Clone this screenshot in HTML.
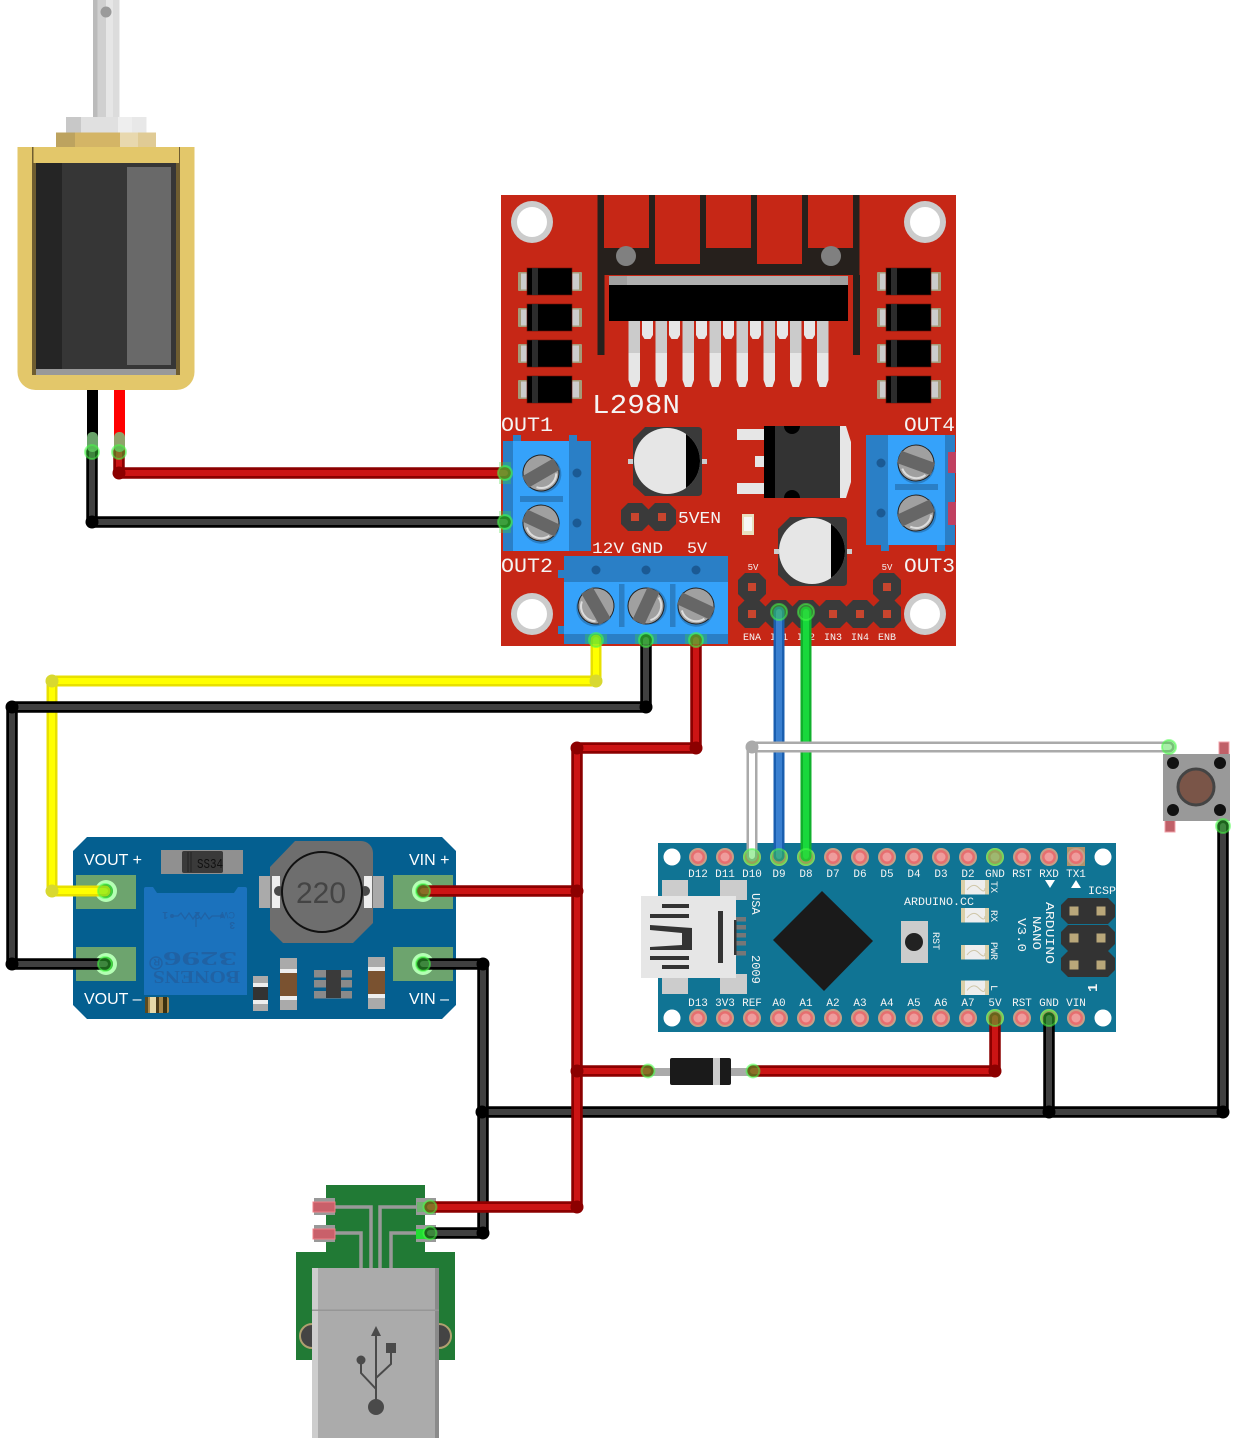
<!DOCTYPE html>
<html><head><meta charset="utf-8"><style>
html,body{margin:0;padding:0;background:#fff}
svg{display:block}
.m{font-family:"Liberation Mono","DejaVu Sans Mono",monospace;fill:#f4f4f4}
.s{font-family:"Liberation Sans",sans-serif;fill:#fff}
.a{text-anchor:middle}
path.w{fill:none;stroke-linecap:round;stroke-linejoin:round}
</style></head><body>
<svg width="1236" height="1450" viewBox="0 0 1236 1450" xmlns="http://www.w3.org/2000/svg">
<defs>
<g id="dl"><rect x="518" y="0" width="64" height="19" rx="1" fill="#a59a78"/><rect x="521" y="1.500" width="58" height="16" fill="#ccc"/><rect x="527" y="-4" width="45" height="27" fill="#000" stroke="#6a1008" stroke-width=".6"/><rect x="532" y="-4" width="6" height="27" fill="#2c2c2c"/></g>
<g id="screw"><circle r="18.500" fill="#2a7fc6" cx="1" cy="2"/><circle r="18" fill="#a0a0a0" stroke="#222" stroke-width="1"/><path d="M-11 10A15 15 0 0 0 13 8" fill="none" stroke="#ddd" stroke-width="2"/><rect x="-18" y="-6.500" width="36" height="13" fill="#666"/></g>
<g id="hdr"><path d="M-7-14H7L14-7V7L7 14H-7L-14 7V-7Z" fill="#3a3a3a"/><rect x="-4" y="-4" width="8" height="8" fill="#c8452e"/></g>
<g id="pin"><circle r="9" fill="#c7a088"/><circle r="7" fill="#e66f70"/><circle r="4.500" fill="#ef9c9c"/></g>
<g id="led"><rect width="28" height="14.500" fill="#eee"/><rect width="4" height="14.500" fill="#d9cfa8"/><rect x="24" width="4" height="14.500" fill="#d9cfa8"/><path d="M6 10Q12 2 18 8T24 8" fill="none" stroke="#cfc6a8"/></g>
<g id="pin2"><rect x="-4.500" y="-4.500" width="9" height="9" fill="#b9a77a"/></g>
<g id="hdr2"><path d="M-20-13H20L27-6V6L20 13H-20L-27 6V-6Z" fill="#333"/></g>
<g id="hole"><circle r="21" fill="#ccc"/><circle r="15" fill="#fff"/></g>
<g id="lp"><path d="M0 0H11.500V59L9 66H2.500L0 59Z" fill="#e6e6e6"/><rect width="11.500" height="32" fill="#cbcbcb"/></g>
<g id="sp"><path d="M0 0H11V14L8.500 18H2.500L0 14Z" fill="#e6e6e6"/></g>
</defs>

<!-- Solenoid -->
<rect x="93" y="0" width="4.500" height="117" fill="#bbb"/><rect x="97.500" y="0" width="8.500" height="117" fill="#d0d0d0"/><rect x="106" y="0" width="7" height="117" fill="#e6e6e6"/><rect x="113" y="0" width="6.500" height="117" fill="#dcdcdc"/>
<circle cx="106" cy="12" r="5.500" fill="#9a9a9a"/>
<rect x="66" y="117" width="15" height="15.500" fill="#c8c8c8"/><rect x="81" y="117" width="37" height="15.500" fill="#e0e0e0"/><rect x="118" y="117" width="14" height="15.500" fill="#eee"/><rect x="132" y="117" width="14.500" height="15.500" fill="#e8e8e8"/>
<rect x="56" y="132.500" width="19" height="15" fill="#bda35f"/><rect x="75" y="132.500" width="45" height="15" fill="#d4b566"/><rect x="120" y="132.500" width="18" height="15" fill="#e8d8ae"/><rect x="138" y="132.500" width="18" height="15" fill="#e0cb95"/>
<path d="M17.500 147H194.500V372A18 18 0 0 1 176.500 390H35.500A18 18 0 0 1 17.500 372Z" fill="#e3c76a"/>
<rect x="32" y="147" width="148" height="228" fill="#6f5d30"/>
<rect x="33.500" y="147" width="145.500" height="16" fill="#e3c76a"/>
<rect x="36" y="163" width="140" height="212" fill="#363636"/>
<rect x="36" y="163" width="26" height="206" fill="#252525"/>
<rect x="127" y="167" width="44" height="198" fill="#696969"/>
<rect x="36" y="369" width="140" height="6" fill="#999"/>
<rect x="87" y="390" width="11" height="65" fill="#000"/>
<rect x="114" y="390" width="11" height="65" fill="#f00"/>

<!-- L298N -->
<rect x="501" y="195" width="455" height="451" fill="#c62716"/>
<use href="#hole" x="532" y="222"/><use href="#hole" x="925" y="222"/><use href="#hole" x="532" y="614"/><use href="#hole" x="925" y="614"/>
<rect x="597.500" y="195" width="262" height="80" fill="#26201c"/>
<rect x="597.500" y="275" width="7" height="80" fill="#26201c"/><rect x="853" y="275" width="7" height="80" fill="#26201c"/>
<g fill="#c62716"><rect x="604" y="195" width="45" height="53"/><rect x="655" y="195" width="45" height="69"/><rect x="706" y="195" width="45" height="53"/><rect x="757" y="195" width="45" height="69"/><rect x="808" y="195" width="45" height="53"/></g>
<circle cx="626" cy="256" r="10" fill="#808080"/><circle cx="831" cy="256" r="10" fill="#808080"/>
<rect x="609" y="276" width="239" height="9" fill="#b0b0b0"/><rect x="609" y="276" width="18" height="9" fill="#a0a0a0"/><rect x="830" y="276" width="18" height="9" fill="#a0a0a0"/>
<rect x="609" y="285" width="239" height="36" fill="#000"/>
<use href="#lp" x="628.500" y="321"/><use href="#lp" x="655.500" y="321"/><use href="#lp" x="682.500" y="321"/><use href="#lp" x="709.500" y="321"/><use href="#lp" x="736.500" y="321"/><use href="#lp" x="763.500" y="321"/><use href="#lp" x="790" y="321"/><use href="#lp" x="817" y="321"/>
<use href="#sp" x="642" y="321"/><use href="#sp" x="669" y="321"/><use href="#sp" x="696" y="321"/><use href="#sp" x="723" y="321"/><use href="#sp" x="750" y="321"/><use href="#sp" x="777" y="321"/><use href="#sp" x="804" y="321"/>
<use href="#dl" y="272"/><use href="#dl" y="308"/><use href="#dl" y="344"/><use href="#dl" y="380"/>
<use href="#dl" x="359" y="272"/><use href="#dl" x="359" y="308"/><use href="#dl" x="359" y="344"/><use href="#dl" x="359" y="380"/>

<text class="m" x="592" y="413" font-size="27" textLength="88" lengthAdjust="spacingAndGlyphs">L298N</text>
<text class="m" x="501" y="431" font-size="20" textLength="52" lengthAdjust="spacingAndGlyphs">OUT1</text>
<text class="m" x="904" y="431" font-size="20" textLength="51" lengthAdjust="spacingAndGlyphs">OUT4</text>
<text class="m" x="501" y="572" font-size="20" textLength="52" lengthAdjust="spacingAndGlyphs">OUT2</text>
<text class="m" x="904" y="572" font-size="20" textLength="51" lengthAdjust="spacingAndGlyphs">OUT3</text>

<!-- left terminal -->
<rect x="513" y="435" width="8" height="6" fill="#2a7fc6"/><rect x="569" y="435" width="8" height="6" fill="#2a7fc6"/>
<rect x="503" y="441" width="88" height="110" fill="#2a7fc6"/><rect x="513" y="441" width="56" height="110" fill="#35a2fa"/>
<rect x="520" y="496" width="43" height="6" fill="#2a7fc6"/>
<circle cx="577" cy="473" r="4.500" fill="#1b5a94"/><circle cx="577" cy="523" r="4.500" fill="#1b5a94"/>
<use href="#screw" transform="translate(541 473) rotate(-30)"/><use href="#screw" transform="translate(541 523) rotate(25)"/>
<!-- right terminal -->
<rect x="881" y="545" width="8" height="6" fill="#2a7fc6"/><rect x="937" y="545" width="8" height="6" fill="#2a7fc6"/>
<rect x="866" y="435" width="89" height="110" fill="#2a7fc6"/><rect x="888" y="435" width="57" height="110" fill="#35a2fa"/>
<rect x="895" y="484" width="43" height="6" fill="#2a7fc6"/>
<circle cx="881" cy="463" r="4.500" fill="#1b5a94"/><circle cx="881" cy="513" r="4.500" fill="#1b5a94"/>
<use href="#screw" transform="translate(916 463) rotate(20)"/><use href="#screw" transform="translate(916 513) rotate(-25)"/>
<rect x="948" y="452" width="8" height="21" fill="#c04060"/><rect x="948" y="502" width="8" height="23" fill="#c04060"/>
<!-- bottom terminal -->
<rect x="558" y="570" width="6" height="8" fill="#2a7fc6"/><rect x="558" y="626" width="6" height="8" fill="#2a7fc6"/>
<rect x="564" y="556" width="164" height="88" fill="#2a7fc6"/><rect x="564" y="582" width="164" height="52" fill="#35a2fa"/>
<circle cx="596" cy="570" r="4.500" fill="#1b5a94"/><circle cx="646" cy="570" r="4.500" fill="#1b5a94"/><circle cx="696" cy="570" r="4.500" fill="#1b5a94"/>
<rect x="619" y="584" width="5.500" height="43" fill="#2a7fc6"/><rect x="670" y="584" width="5.500" height="43" fill="#2a7fc6"/>
<use href="#screw" transform="translate(596 606) rotate(60)"/><use href="#screw" transform="translate(646 606) rotate(-65)"/><use href="#screw" transform="translate(696 606) rotate(25)"/>
<text class="m" x="592" y="553" font-size="16" textLength="32" lengthAdjust="spacingAndGlyphs">12V</text>
<text class="m" x="631" y="553" font-size="16" textLength="32" lengthAdjust="spacingAndGlyphs">GND</text>
<text class="m" x="687" y="553" font-size="16" textLength="20" lengthAdjust="spacingAndGlyphs">5V</text>
<!-- caps -->
<path d="M645 427H698Q702 427 702 431V492Q702 496 698 496H645L633 485V439Z" fill="#3a3a3a"/><rect x="628" y="459" width="5" height="5" fill="#ccc"/><rect x="702" y="459" width="5" height="5" fill="#ccc"/>
<circle cx="667" cy="461" r="33" fill="#e6e6e6"/><path d="M686 434A33 33 0 0 1 686 488Z" fill="#000"/>
<path d="M790 517H843Q847 517 847 521V582Q847 586 843 586H790L778 575V529Z" fill="#3a3a3a"/><rect x="774" y="549" width="5" height="5" fill="#ccc"/><rect x="847" y="549" width="5" height="5" fill="#ccc"/>
<circle cx="812" cy="551" r="33" fill="#e6e6e6"/><path d="M831 524A33 33 0 0 1 831 578Z" fill="#000"/>
<!-- regulator -->
<rect x="737" y="429" width="33" height="11" fill="#e6e6e6"/><rect x="737" y="483" width="33" height="11" fill="#e6e6e6"/><rect x="755" y="456" width="15" height="11" fill="#e6e6e6"/>
<rect x="764" y="426" width="76" height="72" fill="#333"/><rect x="764" y="426" width="11" height="72" fill="#000"/>
<path d="M840 426H846L851 442V482L846 498H840Z" fill="#e6e6e6"/>
<path d="M784 426A8 8 0 0 0 800 426Z" fill="#000"/><path d="M784 498A8 8 0 0 1 800 498Z" fill="#000"/>
<use href="#hdr" x="635" y="517"/><use href="#hdr" x="662" y="517"/>
<text class="m" x="678" y="523" font-size="17" textLength="43" lengthAdjust="spacingAndGlyphs">5VEN</text>
<rect x="742" y="514" width="12" height="21" fill="#e8dfc0"/><rect x="744" y="517" width="8" height="14" fill="#f6f6f6"/>
<use href="#hdr" x="752" y="587"/><use href="#hdr" x="887" y="587"/>
<use href="#hdr" x="752" y="614"/><use href="#hdr" x="779" y="614"/><use href="#hdr" x="806" y="614"/><use href="#hdr" x="833" y="614"/><use href="#hdr" x="860" y="614"/><use href="#hdr" x="887" y="614"/>
<g class="m a" font-size="10"><text class="m a" x="753" y="570" font-size="9">5V</text><text class="m a" x="887" y="570" font-size="9">5V</text>
<text class="m a" x="752" y="640">ENA</text><text class="m a" x="779" y="640">IN1</text><text class="m a" x="806" y="640">IN2</text><text class="m a" x="833" y="640">IN3</text><text class="m a" x="860" y="640">IN4</text><text class="m a" x="887" y="640">ENB</text></g>

<!-- MT3608 -->
<path d="M87 837H442L456 851V1005L442 1019H87L73 1005V851Z" fill="#045f90"/>
<g fill="#6da46e"><rect x="76" y="875" width="60" height="34"/><rect x="76" y="947" width="60" height="34"/><rect x="393" y="875" width="60" height="34"/><rect x="393" y="947" width="60" height="34"/></g>
<text class="s" x="84" y="865" font-size="16">VOUT +</text><text class="s" x="409" y="865" font-size="16">VIN +</text>
<text class="s" x="84" y="1004" font-size="16">VOUT –</text><text class="s" x="409" y="1004" font-size="16">VIN –</text>
<rect x="161" y="850" width="82" height="24" fill="#909090"/><rect x="182" y="851" width="41" height="22" rx="2" fill="#3a3a3a"/>
<path d="M188 852V872M191 852V872" stroke="#222"/>
<text x="197" y="868" font-family="Liberation Mono,monospace" font-size="14" fill="#111" textLength="26" lengthAdjust="spacingAndGlyphs">SS34</text>
<!-- trimmer -->
<path d="M144 889Q144 887 146 887H153L157 893H234L238 887H245Q247 887 247 889V995H144Z" fill="#1b72bd"/>
<g fill="#2062a4" font-family="Liberation Serif,serif" font-weight="bold">
<text transform="translate(237 952) rotate(180)" font-size="20" textLength="74" lengthAdjust="spacingAndGlyphs">3296</text>
<text transform="translate(240 971) rotate(180)" font-size="18" textLength="87" lengthAdjust="spacingAndGlyphs">BONENS</text>
<text transform="translate(160 959) rotate(180)" font-size="9" font-family="Liberation Sans,sans-serif">R</text>
<text transform="translate(235 912) rotate(180)" font-size="9" font-weight="normal" font-family="Liberation Sans,sans-serif">CW</text>
<text transform="translate(200 912) rotate(180)" font-size="10" font-family="Liberation Sans,sans-serif">2</text>
<text transform="translate(235 912) rotate(180)" font-size="1" font-family="Liberation Sans,sans-serif"> </text>
<text transform="translate(168 912) rotate(180)" font-size="10" font-family="Liberation Sans,sans-serif">1</text>
<text transform="translate(235 912) rotate(180)" dy="-10" font-size="10" font-family="Liberation Sans,sans-serif">3</text>
</g>
<circle cx="156" cy="963" r="6" fill="none" stroke="#2062a4" stroke-width="1.500"/>
<path d="M172 916H178l3-3 4 6 4-6 4 6 4-6 4 6 4-6 4 6 3-3H222M196 918V927" fill="none" stroke="#2062a4" stroke-width="1.300"/>
<circle cx="172" cy="916" r="2" fill="#2062a4"/><circle cx="222" cy="916" r="2" fill="#2062a4"/>
<rect x="145" y="997" width="24" height="16" rx="2" fill="#a8884a"/><rect x="150" y="997" width="6" height="16" fill="#e6d8a8"/><rect x="156" y="997" width="3" height="16" fill="#4a3a18"/><rect x="163" y="997" width="4" height="16" fill="#3a3010"/><rect x="145" y="997" width="3" height="16" fill="#5a4a20"/>
<!-- inductor -->
<rect x="259" y="876" width="125" height="32" fill="#aaa"/>
<path d="M295 841H361A12 12 0 0 1 373 853V923L353 943H283L270 930V867Z" fill="#6e6e6e"/>
<rect x="272" y="876" width="8" height="32" fill="#eee"/><rect x="364" y="876" width="8" height="32" fill="#eee"/>
<circle cx="279" cy="891" r="5" fill="#4a4a4a"/><circle cx="365" cy="891" r="5" fill="#4a4a4a"/>
<circle cx="322" cy="892" r="40" fill="#6e6e6e" stroke="#111" stroke-width="2"/>
<text x="321" y="903" text-anchor="middle" font-family="Liberation Sans,sans-serif" font-size="30" fill="#444">220</text>
<rect x="253" y="976" width="15" height="35" fill="#aaa"/><rect x="253" y="983" width="15" height="21" fill="#eee"/><rect x="253" y="987" width="15" height="13" fill="#333"/>
<rect x="280" y="958" width="17" height="52" fill="#aaa"/><rect x="280" y="969" width="17" height="31" fill="#eee"/><rect x="280" y="973" width="17" height="23" fill="#7a5230"/>
<rect x="368" y="957" width="17" height="52" fill="#aaa"/><rect x="368" y="967" width="17" height="31" fill="#eee"/><rect x="368" y="971" width="17" height="23" fill="#7a5230"/>
<g fill="#8a8a8a"><rect x="314" y="970" width="38" height="7.500"/><rect x="314" y="980" width="38" height="7.500"/><rect x="314" y="991" width="38" height="7.500"/></g><rect x="326" y="970" width="15" height="28" fill="#3a3a3a"/>
<g fill="#b4ffb4"><circle cx="106" cy="891" r="11"/><circle cx="106" cy="964" r="11"/><circle cx="423" cy="891" r="11"/><circle cx="423" cy="964" r="11"/></g>
<g fill="#3d8c3d"><circle cx="106" cy="891" r="7"/><circle cx="106" cy="964" r="7"/><circle cx="423" cy="891" r="7"/><circle cx="423" cy="964" r="7"/></g>

<!-- Nano -->
<rect x="658" y="843" width="458" height="189" fill="#107494"/>
<circle cx="672" cy="857" r="8.500" fill="#fff"/><circle cx="1103" cy="857" r="8.500" fill="#fff"/><circle cx="672" cy="1018" r="8.500" fill="#fff"/><circle cx="1103" cy="1018" r="8.500" fill="#fff"/>
<rect x="1067" y="847" width="18" height="19" fill="#b0936c"/>
<use href="#pin" x="698" y="857"/><use href="#pin" x="725" y="857"/><use href="#pin" x="752" y="857"/><use href="#pin" x="779" y="857"/><use href="#pin" x="806" y="857"/><use href="#pin" x="833" y="857"/><use href="#pin" x="860" y="857"/><use href="#pin" x="887" y="857"/><use href="#pin" x="914" y="857"/><use href="#pin" x="941" y="857"/><use href="#pin" x="968" y="857"/><use href="#pin" x="995" y="857"/><use href="#pin" x="1022" y="857"/><use href="#pin" x="1049" y="857"/><use href="#pin" x="1076" y="857"/>
<use href="#pin" x="698" y="1018"/><use href="#pin" x="725" y="1018"/><use href="#pin" x="752" y="1018"/><use href="#pin" x="779" y="1018"/><use href="#pin" x="806" y="1018"/><use href="#pin" x="833" y="1018"/><use href="#pin" x="860" y="1018"/><use href="#pin" x="887" y="1018"/><use href="#pin" x="914" y="1018"/><use href="#pin" x="941" y="1018"/><use href="#pin" x="968" y="1018"/><use href="#pin" x="995" y="1018"/><use href="#pin" x="1022" y="1018"/><use href="#pin" x="1049" y="1018"/><use href="#pin" x="1076" y="1018"/>
<g font-size="11">
<text class="m a" x="698" y="877" font-size="11">D12</text><text class="m a" x="725" y="877" font-size="11">D11</text><text class="m a" x="752" y="877" font-size="11">D10</text><text class="m a" x="779" y="877" font-size="11">D9</text><text class="m a" x="806" y="877" font-size="11">D8</text><text class="m a" x="833" y="877" font-size="11">D7</text><text class="m a" x="860" y="877" font-size="11">D6</text><text class="m a" x="887" y="877" font-size="11">D5</text><text class="m a" x="914" y="877" font-size="11">D4</text><text class="m a" x="941" y="877" font-size="11">D3</text><text class="m a" x="968" y="877" font-size="11">D2</text><text class="m a" x="995" y="877" font-size="11">GND</text><text class="m a" x="1022" y="877" font-size="11">RST</text><text class="m a" x="1049" y="877" font-size="11">RXD</text><text class="m a" x="1076" y="877" font-size="11">TX1</text>
<text class="m a" x="698" y="1006" font-size="11">D13</text><text class="m a" x="725" y="1006" font-size="11">3V3</text><text class="m a" x="752" y="1006" font-size="11">REF</text><text class="m a" x="779" y="1006" font-size="11">A0</text><text class="m a" x="806" y="1006" font-size="11">A1</text><text class="m a" x="833" y="1006" font-size="11">A2</text><text class="m a" x="860" y="1006" font-size="11">A3</text><text class="m a" x="887" y="1006" font-size="11">A4</text><text class="m a" x="914" y="1006" font-size="11">A5</text><text class="m a" x="941" y="1006" font-size="11">A6</text><text class="m a" x="968" y="1006" font-size="11">A7</text><text class="m a" x="995" y="1006" font-size="11">5V</text><text class="m a" x="1022" y="1006" font-size="11">RST</text><text class="m a" x="1049" y="1006" font-size="11">GND</text><text class="m a" x="1076" y="1006" font-size="11">VIN</text>
</g>
<g fill="#ccc"><rect x="662" y="880" width="26" height="20"/><rect x="720" y="880" width="27" height="20"/><rect x="662" y="974" width="26" height="20"/><rect x="720" y="974" width="27" height="20"/></g>
<g fill="#777"><rect x="735" y="917" width="11" height="4.500"/><rect x="735" y="925" width="11" height="4.500"/><rect x="735" y="933" width="11" height="4.500"/><rect x="735" y="941" width="11" height="4.500"/><rect x="735" y="951" width="11" height="4.500"/></g>
<rect x="641" y="896" width="95" height="82" fill="#e6e6e6"/>
<g fill="#333"><rect x="662" y="904" width="27" height="4"/><rect x="650" y="914" width="39" height="4"/><rect x="650" y="956" width="39" height="4"/><rect x="662" y="965" width="27" height="4"/><path d="M650 925L692 928V950L650 950V947L682 945V933L650 930Z"/><rect x="718" y="911" width="5" height="52"/><rect x="734" y="920" width="2.500" height="35"/></g>
<path d="M822 891L873 941L824 991L773 940Z" fill="#1a1a1a"/>
<rect x="901" y="921" width="27" height="42" fill="#ccc"/><circle cx="914" cy="942" r="9" fill="#222"/>
<use href="#led" x="961" y="880"/><use href="#led" x="961" y="908"/><use href="#led" x="961" y="945"/><use href="#led" x="961" y="980.500"/>
<text class="m" x="904" y="905" font-size="11" textLength="70" lengthAdjust="spacingAndGlyphs">ARDUINO.CC</text>
<text class="m" x="1088" y="894" font-size="11" textLength="28" lengthAdjust="spacingAndGlyphs">ICSP</text>
<path d="M1045 880H1055L1050 888Z" fill="#fff"/><path d="M1071 888H1081L1076 880Z" fill="#fff"/>
<g class="m"><text class="m" transform="translate(752 893) rotate(90)" font-size="12">USA</text><text class="m" transform="translate(752 955) rotate(90)" font-size="12">2009</text>
<text class="m" transform="translate(933 932) rotate(90)" font-size="10">RST</text><text class="m" transform="translate(991 881) rotate(90)" font-size="10">TX</text><text class="m" transform="translate(991 910) rotate(90)" font-size="10">RX</text><text class="m" transform="translate(991 942) rotate(90)" font-size="10">PWR</text><text class="m" transform="translate(991 985) rotate(90)" font-size="10">L</text>
<text class="m" transform="translate(1046 902) rotate(90)" font-size="12" textLength="62" lengthAdjust="spacingAndGlyphs">ARDUINO</text><text class="m" transform="translate(1033 916) rotate(90)" font-size="12" textLength="34" lengthAdjust="spacingAndGlyphs">NANO</text><text class="m" transform="translate(1018 918) rotate(90)" font-size="12" textLength="34" lengthAdjust="spacingAndGlyphs">V3.0</text>
<text class="m" transform="translate(1097 992) rotate(-90)" font-size="14" font-weight="bold">1</text></g>
<use href="#hdr2" x="1088" y="911"/><use href="#hdr2" x="1088" y="938"/><use href="#hdr2" x="1088" y="964"/>
<use href="#pin2" x="1074" y="911"/><use href="#pin2" x="1101" y="911"/><use href="#pin2" x="1074" y="938"/><use href="#pin2" x="1101" y="938"/><use href="#pin2" x="1074" y="965"/><use href="#pin2" x="1101" y="965"/>

<!-- Button -->
<rect x="1219" y="742" width="10" height="13" fill="#c06068" stroke="#f0a0a8"/><rect x="1165" y="820" width="10" height="12" fill="#c06068" stroke="#f0a0a8"/>
<rect x="1163" y="754" width="67" height="67" fill="#999"/>
<circle cx="1173" cy="763" r="6" fill="#111"/><circle cx="1220" cy="763" r="6" fill="#111"/><circle cx="1173" cy="810" r="6" fill="#111"/><circle cx="1220" cy="810" r="6" fill="#111"/>
<circle cx="1196" cy="787" r="18" fill="#7a5548" stroke="#444" stroke-width="3"/>

<!-- Diode -->
<rect x="648" y="1068" width="105" height="8" fill="#aaa"/>
<rect x="670" y="1058" width="61" height="27" rx="2" fill="#1a1a1a"/><rect x="713" y="1058" width="7" height="27" fill="#ccc"/>

<!-- USB board -->
<path d="M326 1185H425V1252H455V1360H296V1252H326Z" fill="#217a35"/>
<circle cx="312" cy="1336" r="12" fill="#444" stroke="#b0a070" stroke-width="2"/><circle cx="439" cy="1336" r="12" fill="#444" stroke="#b0a070" stroke-width="2"/>
<path d="M335 1207H371V1268M335 1233H361V1268M416 1207H380V1268M416 1233H391V1268" fill="none" stroke="#999" stroke-width="3.500"/>
<rect x="314" y="1198" width="21" height="17" fill="#999"/><rect x="314" y="1225" width="21" height="17" fill="#999"/><rect x="416" y="1198" width="20" height="17" fill="#999"/><rect x="416" y="1225" width="20" height="17" fill="#999"/>
<rect x="313" y="1202" width="22" height="10" fill="#c9606a" stroke="#f08088"/><rect x="313" y="1229" width="22" height="10" fill="#c9606a" stroke="#f08088"/>
<rect x="417" y="1202" width="20" height="10" fill="#6fb56f"/><rect x="416" y="1229" width="21" height="10" fill="#22dd33"/>
<rect x="312" y="1268" width="127" height="170" fill="#ababab"/><rect x="312" y="1268" width="6" height="170" fill="#cdcdcd"/><rect x="435" y="1268" width="4" height="170" fill="#8a8a8a"/><rect x="312" y="1309.500" width="127" height="1.500" fill="#969696"/>
<path d="M376 1326L381 1336H371Z" fill="#4a4a4a"/>
<path d="M376 1334V1402M361 1360V1373L376 1389M391 1353V1364L376 1378" fill="none" stroke="#4a4a4a" stroke-width="2"/>
<circle cx="376" cy="1407" r="8" fill="#4a4a4a"/><circle cx="361" cy="1360" r="4.500" fill="#4a4a4a"/><rect x="386" y="1343" width="10" height="10" fill="#4a4a4a"/>

<!-- wires -->
<g id="wires">
<path class="w" stroke="#8c0000" stroke-width="11.500" d="M119 452V473H505"/><path class="w" stroke="#cc1414" stroke-width="6" d="M119 452V473H505"/>
<path class="w" stroke="#000" stroke-width="11.500" d="M92 452V522H505"/><path class="w" stroke="#404040" stroke-width="6" d="M92 452V522H505"/>
<path class="w" stroke="#e8e000" stroke-width="11" d="M596 640V681H52V891H105"/><path class="w" stroke="#ffff00" stroke-width="6" d="M596 640V681H52V891H105"/>
<path class="w" stroke="#000" stroke-width="11.500" d="M646 640V707H12V964H105"/><path class="w" stroke="#404040" stroke-width="6" d="M646 640V707H12V964H105"/>
<path class="w" stroke="#1a5fb0" stroke-width="11" d="M779 612V856"/><path class="w" stroke="#3a80d0" stroke-width="6" d="M779 612V856"/>
<path class="w" stroke="#10b02c" stroke-width="11" d="M806 612V856"/><path class="w" stroke="#18d83c" stroke-width="6" d="M806 612V856"/>
<path class="w" stroke="#aaa" stroke-width="11" d="M752 856V747H1169"/><path class="w" stroke="#fff" stroke-width="6" d="M752 856V747H1169"/>
<path class="w" stroke="#000" stroke-width="11.500" d="M1223 826V1112H482"/><path class="w" stroke="#404040" stroke-width="6" d="M1223 826V1112H482"/>
<path class="w" stroke="#000" stroke-width="11.500" d="M1049 1018V1112"/><path class="w" stroke="#404040" stroke-width="6" d="M1049 1018V1112"/>
<path class="w" stroke="#000" stroke-width="11.500" d="M423 964H483V1233H430"/><path class="w" stroke="#404040" stroke-width="6" d="M423 964H483V1233H430"/>
<path class="w" stroke="#8c0000" stroke-width="11.500" d="M696 640V748H577V1207H430"/><path class="w" stroke="#cc1414" stroke-width="6" d="M696 640V748H577V1207H430"/>
<path class="w" stroke="#8c0000" stroke-width="11.500" d="M423 891H577"/><path class="w" stroke="#cc1414" stroke-width="6" d="M423 891H577"/>
<path class="w" stroke="#8c0000" stroke-width="11.500" d="M577 1071H648"/><path class="w" stroke="#cc1414" stroke-width="6" d="M577 1071H648"/>
<path class="w" stroke="#8c0000" stroke-width="11.500" d="M753 1071H995V1018"/><path class="w" stroke="#cc1414" stroke-width="6" d="M753 1071H995V1018"/>
</g>
<!-- bend blobs -->
<g fill="#8c0000"><circle cx="119" cy="473" r="6.500"/><circle cx="696" cy="748" r="6.500"/><circle cx="577" cy="748" r="6.500"/><circle cx="577" cy="891" r="6.500"/><circle cx="577" cy="1071" r="6.500"/><circle cx="577" cy="1207" r="6.500"/><circle cx="995" cy="1071" r="6.500"/></g>
<g fill="#000"><circle cx="92" cy="522" r="6.500"/><circle cx="646" cy="707" r="6.500"/><circle cx="12" cy="707" r="6.500"/><circle cx="12" cy="964" r="6.500"/><circle cx="1223" cy="1112" r="6.500"/><circle cx="1049" cy="1112" r="6.500"/><circle cx="482" cy="1112" r="6.500"/><circle cx="483" cy="964" r="6.500"/><circle cx="483" cy="1233" r="6.500"/></g>
<g fill="#d8d830"><circle cx="596" cy="681" r="6.500"/><circle cx="52" cy="681" r="6.500"/><circle cx="52" cy="891" r="6.500"/></g>
<circle cx="752" cy="747" r="6.500" fill="#aaa"/>
<!-- connector highlights -->
<g fill="#7cc07c" fill-opacity=".85"><rect x="87" y="432" width="11" height="20" rx="5"/><rect x="114" y="432" width="11" height="20" rx="5"/></g>
<g fill="#3cdc3c" fill-opacity=".3"><rect x="499" y="462" width="12" height="22"/><rect x="499" y="511" width="12" height="22"/><rect x="585" y="634" width="22" height="10"/><rect x="635" y="634" width="22" height="10"/><rect x="685" y="634" width="22" height="10"/></g>
<g fill="#3cdc3c" fill-opacity=".45" stroke="#46ff46" stroke-opacity=".5" stroke-width="2">
<circle cx="92" cy="452" r="7"/><circle cx="119" cy="452" r="7"/>
<circle cx="505" cy="473" r="7"/><circle cx="505" cy="522" r="7"/>
<circle cx="596" cy="640" r="7"/><circle cx="646" cy="640" r="7"/><circle cx="696" cy="640" r="7"/>
<circle cx="779" cy="612" r="8"/><circle cx="806" cy="612" r="8"/>
<circle cx="105" cy="891" r="7"/><circle cx="105" cy="964" r="7"/><circle cx="423" cy="891" r="7"/><circle cx="423" cy="964" r="7"/>
<circle cx="752" cy="857" r="8"/><circle cx="779" cy="857" r="8"/><circle cx="806" cy="857" r="8"/><circle cx="995" cy="857" r="8"/><circle cx="995" cy="1018" r="8"/><circle cx="1049" cy="1018" r="8"/>
<circle cx="1169" cy="747" r="7"/><circle cx="1223" cy="826" r="7"/>
<circle cx="648" cy="1071" r="6.500"/><circle cx="753" cy="1071" r="6.500"/>
<circle cx="430" cy="1207" r="6.500"/><circle cx="430" cy="1233" r="6.500"/>
</g>
</svg>
</body></html>
